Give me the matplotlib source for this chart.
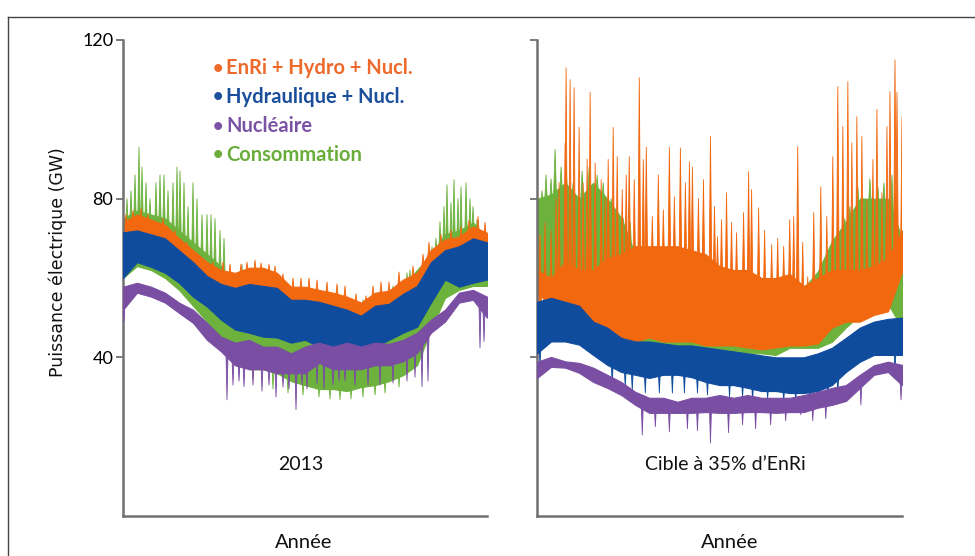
import numpy as np
import matplotlib
matplotlib.use("Agg")
import matplotlib.pyplot as plt
from matplotlib.lines import Line2D
from matplotlib.collections import PolyCollection

# ---------------- data ----------------
DAYS = [0, 14, 28, 42, 56, 70, 84, 98, 112, 126, 140, 154, 168, 182,
        196, 210, 224, 238, 252, 266, 280, 294, 308, 322, 336, 350, 364]

# 2013 panel: envelopes (GW)
L_ENR_HI = [74, 76, 74.7, 73.4, 70, 67, 64, 62, 61.3, 62.6, 62.6, 61.3, 57.8, 57.8,
            57, 56.3, 55.3, 53.8, 56.3, 56.8, 59.6, 61.3, 67.1, 69.7, 70.4, 73, 71.4]
L_ENR_LO = [62, 65, 64, 63, 60, 57, 54, 51, 49, 48, 47, 47, 45, 46,
            44, 43, 43, 43, 44, 46, 48, 50, 55, 61, 60, 61, 61]
L_HYD_HI = [71.5, 72, 71, 70, 67, 64, 60.5, 58.5, 57.5, 58.5, 58, 57.5, 54.5, 54.5,
            54, 53, 52, 50.5, 53, 53.5, 56, 58, 64, 67, 68, 70, 69]
L_HYD_LO = [60, 64, 62.8, 61.3, 58.8, 55.3, 52.8, 49.5, 47, 46.2, 45.2, 45, 43.7, 44.4,
            42.7, 41.1, 41, 41, 42.7, 44.4, 46.2, 47.7, 53.8, 59.6, 57.8, 58.8, 59.6]
L_NUC_HI = [57.8, 58.8, 57.8, 56.3, 53.8, 52, 48.7, 45.2, 43.7, 44.4, 42.7, 42.7, 41, 42.7,
            43.7, 42.7, 43.7, 42.7, 43.7, 43.4, 44.4, 46.2, 49.5, 52, 56.3, 57, 55.3]
L_NUC_LO = [52, 56.3, 55.3, 53.8, 51.2, 48.7, 44.4, 41.5, 38, 37, 37, 36, 36, 36,
            38.6, 37, 37, 37, 38, 38, 39, 41.1, 46.2, 49, 53.8, 54.5, 50]
L_CONS_HI = [75, 77, 76, 75, 72, 69, 66, 63, 58, 58, 56, 55, 54, 54,
             54, 54, 52, 52, 54, 55, 58, 62, 66, 71, 72, 74, 70]
L_CONS_LO = [60, 63, 62, 60, 57, 53, 49, 45, 41, 37, 37, 36, 34, 33,
             32, 32, 31.5, 32.5, 33, 34, 35.5, 38, 47, 55, 57, 58, 58]
# 2013 panel: individual peaks / dips (day, GW)
L_CONS_PEAK_DAY = [4, 8, 12, 16, 19, 23, 27, 33, 37, 41, 45, 50, 54, 57, 61, 65, 70, 74,
                   79, 84, 88, 92, 97, 101, 119, 240, 270, 284, 287, 295, 302, 309, 313,
                   317, 321, 324, 328, 331, 335, 338, 343, 347, 350, 354]
L_CONS_PEAK_VAL = [80, 82, 86, 93, 88, 84, 80, 84, 86, 86, 82, 84, 88, 87, 84, 78, 84, 80,
                   76, 76, 76, 75, 72, 70, 63.4, 54.5, 58, 61.3, 62, 60, 63.4, 67.9, 70,
                   74.2, 78, 83.5, 79, 84.8, 80, 83, 84, 80, 78, 74.7]
L_CONS_DIP_DAY = [150, 165, 180, 196, 207, 217, 228, 240, 252, 262, 276]
L_CONS_DIP_VAL = [32, 31, 30.5, 30, 29.5, 29.3, 29.5, 30, 30.5, 31, 32.5]
L_ENR_PEAK_DAY = [3, 10, 18, 25, 40, 52, 64, 75, 90, 100, 107, 118, 124, 132, 138, 146,
                  152, 160, 170, 178, 186, 194, 204, 214, 222, 233, 243, 250, 258, 266,
                  276, 290, 300, 306, 318, 328, 338, 346, 355, 362]
L_ENR_PEAK_VAL = [76, 77, 77.5, 76, 75, 72, 69, 66, 64, 64, 63.5, 63.5, 64, 64.5, 63.8,
                  63.5, 63, 61, 60, 60, 60, 59.5, 59, 58.5, 58, 56, 55.5, 58, 59, 59,
                  61.5, 63, 66, 69, 71, 72, 73, 74.5, 75.5, 74]
L_NUC_DIP_DAY = [1, 104, 110, 116, 121, 130, 139, 146, 153, 160, 166, 173, 179, 184, 194,
                 201, 210, 216, 222, 232, 245, 257, 270, 284, 292, 299, 305, 357, 361]
L_NUC_DIP_VAL = [49, 29.3, 33, 34, 32.6, 33, 31.5, 33, 30, 32.5, 32, 26.8, 33, 32, 33.3,
                 32, 33, 34, 34, 33, 33, 33, 33.5, 34, 35, 32.6, 34, 42.4, 44]

# Target panel: envelopes (GW)
R_ENR_HI = [62, 60, 64, 62, 62, 65, 66, 68, 68, 68, 68, 67, 66, 63,
            62, 62, 60, 60, 61, 58, 60, 62, 62, 62, 63, 65, 72]
R_ENR_LO = [55.8, 54, 47.5, 50.7, 49, 46.4, 45, 44, 45, 44, 44, 44, 43, 43,
            43, 42.5, 42, 42.5, 43, 43, 43.5, 47.5, 49, 49, 50.7, 51.6, 61.6]
R_HYD_HI = [54, 55, 54, 53, 49, 47.5, 44.9, 44, 44, 43.5, 43, 43, 42.5, 42,
            41.5, 41, 40.5, 40, 40, 40, 41, 42.4, 44.9, 47.5, 49, 49.7, 50]
R_HYD_LO = [41, 44, 44, 43.2, 40.6, 38.1, 36.3, 35.6, 34.8, 35.6, 35.6, 35, 33.8, 33,
            33, 32.3, 31.5, 31.5, 31, 31, 31.5, 33, 36.3, 38.9, 40.6, 40.6, 40.6]
R_NUC_HI = [38.9, 40.1, 39, 38.6, 37.4, 35.6, 33.8, 31.3, 29.8, 29.8, 28.8, 29.8, 29.8, 30.5,
            29.8, 30.5, 29.8, 29.8, 29.8, 30.5, 31.3, 32.3, 33, 35.6, 38, 38.9, 38.1]
R_NUC_LO = [34.8, 37.6, 37.4, 36.1, 33.8, 32.3, 30.5, 28, 26, 26, 26, 26, 26.2, 26,
            26, 26.2, 26.2, 26, 26.2, 26.2, 27.3, 28, 29, 32.3, 35.6, 36.3, 33]
R_CONS_HI = [80, 81, 84, 80, 84, 80, 75.2, 65.9, 61.6, 58, 52.5, 52.5, 50.7, 55.8,
             57, 57, 58.8, 58, 57.5, 57.5, 61.6, 69.2, 74.2, 80, 80, 80, 70]
R_CONS_LO = [55.8, 57.5, 57.5, 52.5, 55.8, 52.5, 49, 44.9, 42.4, 42, 40.6, 40.6, 40.6, 40.6,
             41, 41, 41, 40.6, 42.4, 42.4, 42.4, 43.9, 47.5, 50.7, 52.5, 53.4, 47.5]
# Target panel: peaks / dips (day, GW)
R_ENR_PEAK_DAY = [3, 8, 14, 19, 22, 28, 29, 33, 37, 42, 46, 50, 53, 58, 64, 68, 71, 76, 80,
                  85, 89, 92, 97, 102, 106, 109, 115, 121, 126, 132, 137, 143, 148, 152,
                  155, 161, 166, 173, 177, 180, 184, 189, 194, 199, 206, 211, 214, 221, 227,
                  234, 240, 246, 252, 256, 260, 265, 270, 276, 283, 289, 295, 300, 305,
                  310, 314, 319, 324, 329, 335, 339, 344, 349, 352, 357, 359, 364]
R_ENR_PEAK_VAL = [71, 74, 72, 80, 84, 94, 113, 110, 108, 98, 84, 90, 106.8, 89, 84.8, 80,
                  89.9, 98, 90.6, 82.3, 86, 90.6, 84.8, 110.5, 89.9, 93, 75.5, 86, 77.2,
                  93, 80.5, 92.8, 84, 89.3, 88, 80, 84.8, 95.7, 78, 70.4, 74.7, 81.5, 74,
                  71.4, 76.5, 86.8, 82.3, 77.7, 72, 68.4, 70, 68, 74.7, 75.5, 93.1, 69,
                  60.3, 76.5, 83, 75.5, 90.6, 108.3, 98.2, 109.5, 94.1, 100.7, 95.7, 79.8,
                  89.9, 102.5, 81.5, 98.2, 107, 115, 106.8, 100.7]
R_CONS_PEAK_DAY = [5, 9, 14, 18, 24, 29, 36, 45, 52, 60, 66, 74, 80, 86, 93,
                   300, 307, 312, 320, 326, 332, 340, 346, 354, 358]
R_CONS_PEAK_VAL = [82, 86, 85, 92.4, 88, 88, 84, 87, 88, 86, 84, 80, 78, 75, 74,
                   72, 75, 78, 83, 80, 85, 83, 84, 86, 80]
R_HYD_DIP_DAY = [3, 75, 88, 95, 108, 122, 135, 147, 160, 170, 192, 205, 215, 230, 246,
                 258, 272, 290, 300, 357]
R_HYD_DIP_VAL = [38, 33, 32.5, 31.5, 31, 31, 31, 31, 31, 30.5, 30, 30, 29, 29.5, 28.5,
                 29, 28.5, 30, 31, 36]
R_NUC_DIP_DAY = [105, 118, 132, 150, 160, 173, 191, 205, 218, 233, 248, 263, 275, 288, 323, 363]
R_NUC_DIP_VAL = [20.4, 22.5, 21.2, 22, 21.5, 18.4, 21, 23, 22, 23, 24, 25.5, 24, 24.5, 28, 29.3]

YTICKS = [40, 80, 120]
LEGEND = ["EnRi + Hydro + Nucl.", "Hydraulique + Nucl.", "Nucléaire", "Consommation"]
PANEL_TITLES = ["2013", "Cible à 35% d\u2019EnRi"]
XLABEL = "Année"
YLABEL = "Puissance électrique (GW)"

# ---------------- style ----------------
C_ORANGE = "#F2680F"
C_BLUE = "#104C9E"
C_PURPLE = "#7A4EA3"
C_GREEN = "#6CB23C"
LEG_COLORS = ["#EE6A2C", "#1B4F9B", "#7B53A5", "#6AAD3A"]
AXIS_GREY = "#707070"
FONT = ["Lato", "DejaVu Sans"]

W, H = 975, 556
fig = plt.figure(figsize=(W / 100, H / 100), dpi=100)


def fx(px):
    return px / W


def fy(py):
    return 1 - py / H


axL = fig.add_axes([fx(123), fy(516), (487 - 123) / W, (516 - 40) / H])
axR = fig.add_axes([fx(537), fy(516), (902 - 537) / W, (516 - 40) / H])


def band(ax, lo, hi, color, z):
    ax.fill_between(DAYS, lo, hi, color=color, lw=0.8, edgecolor=color, zorder=z)


def teeth(ax, sd, sv, base_env, color, z, offset, half=1.3):
    """Narrow pointed spikes from inside a band out to a read peak/dip value."""
    base = np.interp(sd, DAYS, base_env) + offset
    polys = [[(d - half, b), (d, v), (d + half, b)] for d, v, b in zip(sd, sv, base)]
    ax.add_collection(PolyCollection(polys, facecolors=color, edgecolors=color,
                                     linewidths=0.6, zorder=z))


# left panel (2013)
band(axL, L_CONS_LO, L_CONS_HI, C_GREEN, 1)
teeth(axL, L_CONS_PEAK_DAY, L_CONS_PEAK_VAL, L_CONS_HI, C_GREEN, 1.5, -3)
teeth(axL, L_CONS_DIP_DAY, L_CONS_DIP_VAL, L_CONS_LO, C_GREEN, 1.5, 3)
band(axL, L_ENR_LO, L_ENR_HI, C_ORANGE, 2)
teeth(axL, L_ENR_PEAK_DAY, L_ENR_PEAK_VAL, L_ENR_HI, C_ORANGE, 2.5, -2, half=1.6)
band(axL, L_HYD_LO, L_HYD_HI, C_BLUE, 3)
band(axL, L_NUC_LO, L_NUC_HI, C_PURPLE, 4)
teeth(axL, L_NUC_DIP_DAY, L_NUC_DIP_VAL, L_NUC_LO, C_PURPLE, 4.5, 2, half=1.1)

# right panel (target)
band(axR, R_CONS_LO, R_CONS_HI, C_GREEN, 1)
teeth(axR, R_CONS_PEAK_DAY, R_CONS_PEAK_VAL, R_CONS_HI, C_GREEN, 1.5, -4, half=1.8)
band(axR, R_ENR_LO, R_ENR_HI, C_ORANGE, 2)
teeth(axR, R_ENR_PEAK_DAY, R_ENR_PEAK_VAL, R_ENR_HI, C_ORANGE, 2.5, -8, half=1.5)
band(axR, R_HYD_LO, R_HYD_HI, C_BLUE, 3)
teeth(axR, R_HYD_DIP_DAY, R_HYD_DIP_VAL, R_HYD_LO, C_BLUE, 3.5, 2, half=1.1)
band(axR, R_NUC_LO, R_NUC_HI, C_PURPLE, 4)
teeth(axR, R_NUC_DIP_DAY, R_NUC_DIP_VAL, R_NUC_LO, C_PURPLE, 4.5, 2, half=1.1)

for ax, show in ((axL, True), (axR, False)):
    ax.set_xlim(0, 364)
    ax.set_ylim(0, 120)
    ax.set_xticks([])
    ax.set_yticks(YTICKS)
    for s in ("top", "right"):
        ax.spines[s].set_visible(False)
    for s in ("left", "bottom"):
        ax.spines[s].set_color(AXIS_GREY)
        ax.spines[s].set_linewidth(1.8)
    ax.tick_params(axis="y", direction="out", length=5, width=1.3, color=AXIS_GREY,
                   labelsize=13, pad=2, labelleft=show)
    ax.patch.set_alpha(0)
    for lab in ax.get_yticklabels():
        lab.set_family(FONT)

# titles inside panels and x labels
fig.text(fx(301), fy(465), PANEL_TITLES[0], ha="center", va="center",
         fontsize=14, family=FONT, color="#111111")
fig.text(fx(725), fy(465), PANEL_TITLES[1], ha="center", va="center",
         fontsize=14, family=FONT, color="#111111")
fig.text(fx(304), fy(543), XLABEL, ha="center", va="center",
         fontsize=14.5, family=FONT, color="#111111")
fig.text(fx(730), fy(543), XLABEL, ha="center", va="center",
         fontsize=14.5, family=FONT, color="#111111")
fig.text(fx(58), fy(262), YLABEL, ha="center", va="center", rotation=90,
         fontsize=12.5, family=["DejaVu Sans"], color="#111111")

# legend
for i, (txt, col) in enumerate(zip(LEGEND, LEG_COLORS)):
    y = fy(68 + 29 * i)
    fig.text(fx(213), y, "\u2022", ha="left", va="center", fontsize=13,
             family=FONT, color=col, fontweight="bold")
    fig.text(fx(226), y, txt, ha="left", va="center", fontsize=14.5,
             family=FONT, color=col, fontweight="bold")

# outer frame (top and left edges)
fig.add_artist(Line2D([fx(8), 1], [fy(17), fy(17)], transform=fig.transFigure,
                      color="#444444", lw=1.0))
fig.add_artist(Line2D([fx(8), fx(8)], [0, fy(17)], transform=fig.transFigure,
                      color="#444444", lw=1.0))

fig.savefig("out.png", dpi=100)
